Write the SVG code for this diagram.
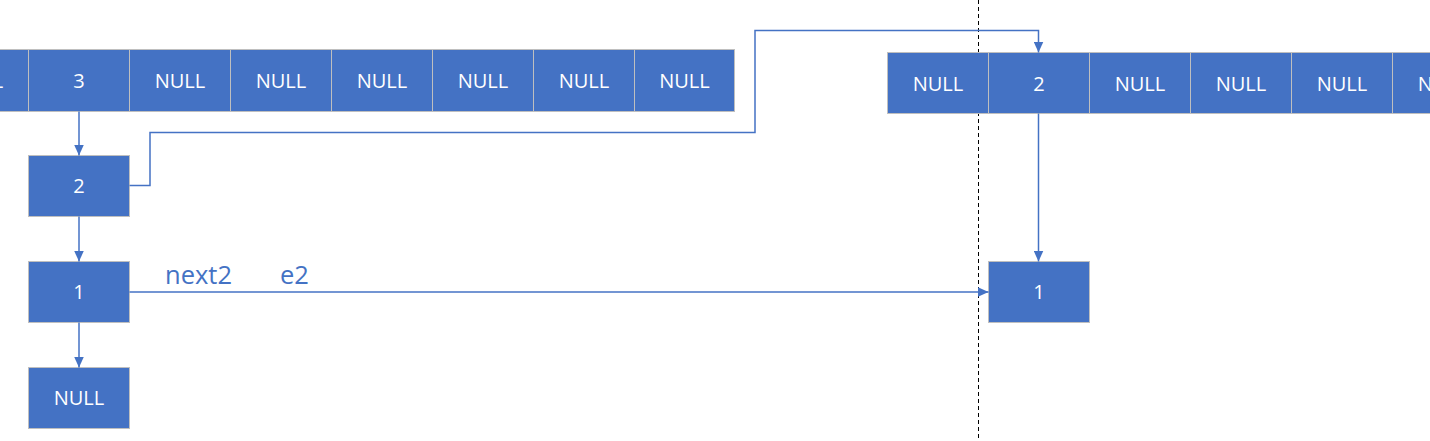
<svg xmlns="http://www.w3.org/2000/svg" width="1430" height="441" viewBox="0 0 1430 441">
<defs>
<style>
.c{fill:#4472C4;stroke:#BFBFBF;stroke-width:1}
.t{fill:#FFFFFF;font-family:"Open Sans","Liberation Sans",sans-serif;font-size:20px;text-anchor:middle}
.l{fill:#4472C4;font-family:"Open Sans","Liberation Sans",sans-serif;font-size:25.5px}
.w{fill:none;stroke:#4472C4;stroke-width:1.5}
</style>
<marker id="b" viewBox="0 0 11 10" refX="11" refY="5" markerWidth="11" markerHeight="10" orient="auto" markerUnits="userSpaceOnUse">
<path d="M0,0 L11,5 L0,10 Z" fill="#4472C4"/>
</marker>
</defs>
<rect width="1430" height="441" fill="#FFFFFF"/>
<line x1="978.5" y1="0" x2="978.5" y2="441" stroke="#000" stroke-width="1" stroke-dasharray="4,3"/>
<g id="arrayA">
<rect class="c" x="-72.5" y="49.5" width="101" height="62"/><text class="t" x="-22" y="88">NULL</text>
<rect class="c" x="28.5" y="49.5" width="101" height="62"/><text class="t" x="79" y="88">3</text>
<rect class="c" x="129.5" y="49.5" width="101" height="62"/><text class="t" x="180" y="88">NULL</text>
<rect class="c" x="230.5" y="49.5" width="101" height="62"/><text class="t" x="281" y="88">NULL</text>
<rect class="c" x="331.5" y="49.5" width="101" height="62"/><text class="t" x="382" y="88">NULL</text>
<rect class="c" x="432.5" y="49.5" width="101" height="62"/><text class="t" x="483" y="88">NULL</text>
<rect class="c" x="533.5" y="49.5" width="101" height="62"/><text class="t" x="584" y="88">NULL</text>
<rect class="c" x="634.5" y="49.5" width="100" height="62"/><text class="t" x="684.5" y="88">NULL</text>
</g>
<g id="arrayB">
<rect class="c" x="887.5" y="52.5" width="101" height="61"/><text class="t" x="938" y="90.5">NULL</text>
<rect class="c" x="988.5" y="52.5" width="101" height="61"/><text class="t" x="1039" y="90.5">2</text>
<rect class="c" x="1089.5" y="52.5" width="101" height="61"/><text class="t" x="1140" y="90.5">NULL</text>
<rect class="c" x="1190.5" y="52.5" width="101" height="61"/><text class="t" x="1241" y="90.5">NULL</text>
<rect class="c" x="1291.5" y="52.5" width="101" height="61"/><text class="t" x="1342" y="90.5">NULL</text>
<rect class="c" x="1392.5" y="52.5" width="101" height="61"/><text class="t" x="1443" y="90.5">NULL</text>
</g>
<g id="n2"><rect class="c" x="28.5" y="155.5" width="101" height="61"/><text class="t" x="79" y="193">2</text></g>
<g id="n1"><rect class="c" x="28.5" y="261.5" width="101" height="61"/><text class="t" x="79" y="299">1</text></g>
<g id="nnull"><rect class="c" x="28.5" y="367.5" width="101" height="61"/><text class="t" x="79" y="405">NULL</text></g>
<g id="r1"><rect class="c" x="988.5" y="261.5" width="101" height="61"/><text class="t" x="1039" y="299">1</text></g>
<g id="connectors">
<line class="w" x1="79" y1="111.5" x2="79" y2="155.5" marker-end="url(#b)"/>
<line class="w" x1="79" y1="216.5" x2="79" y2="261.5" marker-end="url(#b)"/>
<line class="w" x1="79" y1="322.5" x2="79" y2="367.5" marker-end="url(#b)"/>
<polyline class="w" points="129.5,185.5 150,185.5 150,132.5 755,132.5 755,30.5 1038.5,30.5 1038.5,52.5" marker-end="url(#b)"/>
<line class="w" x1="1038.5" y1="113.5" x2="1038.5" y2="261.5" marker-end="url(#b)"/>
<line class="w" x1="129.5" y1="292" x2="988.5" y2="292" marker-end="url(#b)"/>
</g>
<g id="labels">
<text class="l" x="165" y="284">next2</text>
<text class="l" x="280" y="284">e2</text>
</g>
</svg>
